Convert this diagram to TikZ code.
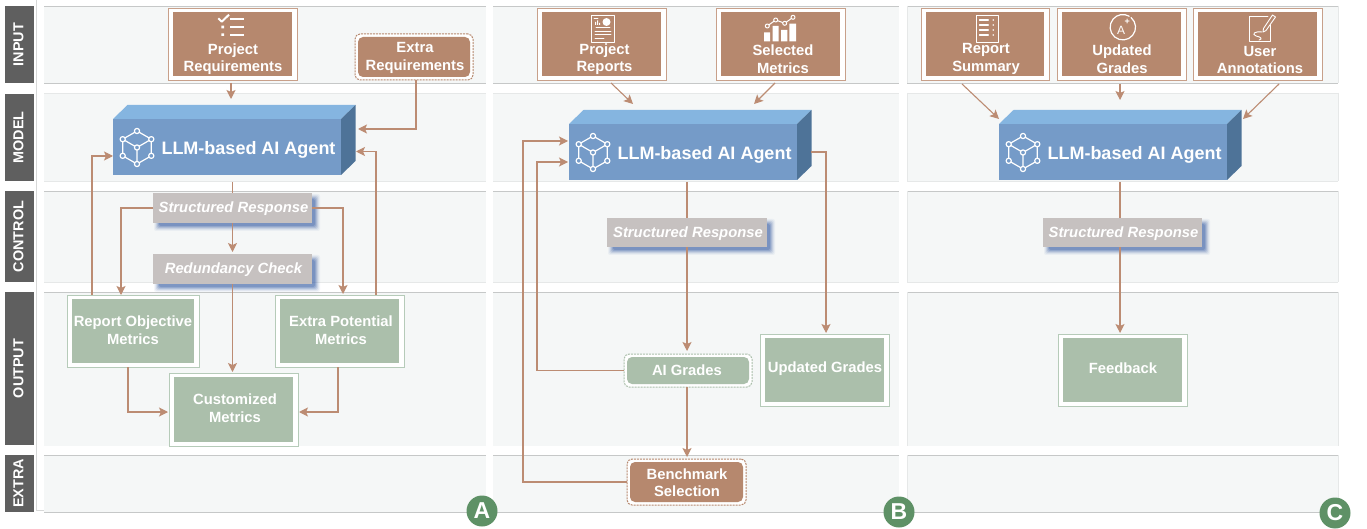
\documentclass[tikz,border=0pt]{standalone}
\usepackage{fontspec}
\setmainfont{Liberation Sans}
\usetikzlibrary{arrows.meta}
\definecolor{brownbox}{HTML}{B6886E}
\definecolor{brownedge}{HTML}{C8A08A}
\definecolor{greenbox}{HTML}{ABBFAB}
\definecolor{greenedge}{HTML}{B6CBB9}
\definecolor{wire}{HTML}{BC8C73}
\definecolor{band}{HTML}{F5F7F7}
\definecolor{bandlight}{HTML}{E6E8E8}
\definecolor{banddark}{HTML}{C6C8C8}
\definecolor{sidegray}{HTML}{5F5F5F}
\definecolor{greybox}{HTML}{C6C1C0}
\definecolor{shadowblue}{HTML}{2F55A0}
\definecolor{front}{HTML}{759BC8}
\definecolor{topface}{HTML}{85B5E0}
\definecolor{sideface}{HTML}{4E7398}
\definecolor{badgegreen}{HTML}{5E9166}
\tikzset{
  x=1pt,y=-1pt,
  every node/.style={inner sep=0pt,outer sep=0pt},
  outerbox/.style={draw,fill=white,line width=.9pt},
  dashbox/.style={draw,fill=white,line width=1pt,dash pattern=on 2pt off 1pt,rounded corners=5pt},
  boxlabel/.style={text=white,align=center,font=\fontsize{14.8}{17.5}\selectfont\bfseries},
  resplabel/.style={text=white,font=\fontsize{14.8}{17}\selectfont\bfseries\itshape},
  agentlabel/.style={text=white,font=\fontsize{18}{20}\selectfont\bfseries},
  wireline/.style={draw=wire,line width=1.1pt},
  conn/.style={wireline,-{Stealth[length=9pt,width=9pt,inset=2pt]}},
  icon/.style={draw=white,line width=1.2pt,line cap=round,line join=round},
  badge/.style={circle,fill=badgegreen,text=white,minimum size=31pt,font=\fontsize{23}{23}\selectfont\bfseries},
}
\newcommand\dblbox[6]{% name,x,y,w,h,colour
  \node[outerbox,draw=#6edge,minimum width=#4pt,minimum height=#5pt] (#1) at (#2,#3) {};
  \node[fill=#6box,minimum width={(#4-10)*1pt},minimum height={(#5-8)*1pt}] (#1-in) at (#2,#3) {};}
\newcommand\dashedbox[6]{% name,x,y,w,h,colour
  \node[dashbox,draw=#6box,minimum width=#4pt,minimum height=#5pt] (#1) at (#2,#3) {};
  \node[fill=#6box,rounded corners=5pt,minimum width={(#4-6)*1pt},minimum height={(#5-6)*1pt}] (#1-in) at (#2,#3) {};}
\newcommand\respbox[6]{% name,x,y,w,h,text
  \foreach \e/\o in {5/.05,4/.08,3/.12,2/.16,1/.2,0/.25}{
    \fill[shadowblue,opacity=\o,rounded corners=2pt] ({#2-#4/2+6-\e},{#3-#5/2+6-\e}) rectangle ({#2+#4/2+3+\e},{#3+#5/2+3+\e});}
  \node[fill=greybox,minimum width=#4pt,minimum height=#5pt] (#1) at (#2,#3) {};
  \node[resplabel] (#1-txt) at ({#2+1},{#3+1}) {#6};}
\newcommand\agentbox[3]{% name,x,y
  \fill[topface] ({#2-114},{#3-28}) -- ({#2-99.5},{#3-42}) -- ({#2+128.5},{#3-42}) -- ({#2+114},{#3-28}) -- cycle;
  \fill[sideface] ({#2+114},{#3-28}) -- ({#2+128.5},{#3-42}) -- ({#2+128.5},{#3+14}) -- ({#2+114},{#3+28}) -- cycle;
  \node[fill=front,minimum width=228pt,minimum height=56pt] (#1) at (#2,#3) {};
  \node[agentlabel] (#1-txt) at ({#2+21.5},{#3+3}) {LLM-based AI Agent};
  \begin{scope}[shift={({#2-90},{#3+0.5})},icon]
    \draw (0,-16.5) -- (14.3,-8.3) -- (14.3,8.3) -- (0,16.5) -- (-14.3,8.3) -- (-14.3,-8.3) -- cycle;
    \draw (-14.3,-8.3) -- (0,0) -- (14.3,-8.3) (0,0) -- (0,16.5);
    \foreach \p in {(0,-16.5),(14.3,-8.3),(14.3,8.3),(0,16.5),(-14.3,8.3),(-14.3,-8.3),(0,0)}
      \filldraw[fill=front] \p circle (2.6);
  \end{scope}}
\begin{document}
\begin{tikzpicture}
\useasboundingbox (0,0) rectangle (1367,529);
\fill[white] (0,0) rectangle (1367,529);
% bands
\foreach \xa/\xb in {44/486,493/899,907/1338}{
  \fill[band] (\xa,6) rectangle (\xb,83);
  \fill[band] (\xa,93) rectangle (\xb,181);
  \fill[band] (\xa,191) rectangle (\xb,282);
  \fill[band] (\xa,292) rectangle (\xb,446);
  \fill[band] (\xa,455) rectangle (\xb,512);
  \foreach \yy in {93,181,282}
    \draw[bandlight,line width=.8pt] (\xa,\yy) -- (\xb,\yy);
  \foreach \yy in {6,83,191,292,455,512}
    \draw[banddark,line width=.8pt] (\xa,\yy) -- (\xb,\yy);
}
\draw[bandlight,line width=.8pt] (907,6) -- (907,83) (907,93) -- (907,181) (907,191) -- (907,282) (907,292) -- (907,446) (907,455) -- (907,512)
  (1338,6) -- (1338,83) (1338,93) -- (1338,181) (1338,191) -- (1338,282) (1338,292) -- (1338,446) (1338,455) -- (1338,512);
\draw[banddark!70!white,line width=.8pt] (36.5,0) -- (36.5,510) -- (44,510);
% side labels
\foreach \nm/\ya/\yb/\tx in {sideinput/6/83/INPUT,sidemodel/94/181/MODEL,sidecontrol/191/282/CONTROL,sideoutput/292/445/OUTPUT,sideextra/455/512/EXTRA}{
  \fill[sidegray] (5,\ya) rectangle (34,\yb);
  \node[text=white,font=\fontsize{14.4}{16}\selectfont\bfseries,rotate=90] (\nm) at (18.5,{(\ya+\yb)/2}) {\tx};
}
% ---------- column A
\dblbox{pr}{232.5}{44}{129}{72}{brown}
\node[boxlabel] (pr-txt) at (233,59) {Project\\Requirements};
\begin{scope}[icon,line width=2pt]
  \draw[line cap=butt] (218.3,18.3) -- (221.7,21.7) -- (229,14.7);
  \draw[line cap=butt] (230,19.3) -- (244,19.3) (230,27) -- (244,27) (230,34.7) -- (244,34.7);
  \fill[white] (221.3,25.7) rectangle (224,28.3) (221.3,33.4) rectangle (224,36);
\end{scope}
\dashedbox{ex}{414}{57}{118}{46}{brown}
\node[boxlabel] (ex-txt) at (415,58) {Extra\\Requirements};
\agentbox{agA}{227}{147}
\respbox{srA}{232.5}{208}{159}{30}{Structured Response}
\respbox{rcA}{232.5}{269}{159}{30}{Redundancy Check}
\dblbox{rom}{133}{331}{132}{72}{green}
\node[boxlabel] (rom-txt) at (133,330) {Report Objective\\Metrics};
\dblbox{epm}{339.5}{331}{129}{72}{green}
\node[boxlabel] (epm-txt) at (341,330) {Extra Potential\\Metrics};
\dblbox{cm}{233.5}{409.5}{129}{73}{green}
\node[boxlabel] (cm-txt) at (235,408) {Customized\\Metrics};
\draw[conn] ([shift={(-1.5,3)}]pr.south) -- ([shift={(4,-20)}]agA.north);
\draw[conn] ([shift={(2,0)}]ex.south) |- ([shift={(17,-18)}]agA.east);
\draw[wireline] ([shift={(5.5,7)}]agA.south) -- (srA.north);
\draw[conn] (srA.south) -- ([shift={(0,-2)}]rcA.north);
\draw[conn] (srA.west) -| ([shift={(-12,0)}]rom.north);
\draw[conn] (srA.east) -| ([shift={(3.5,-1)}]epm.north);
\draw[conn] (rcA.south) -- ([shift={(-1,-1)}]cm.north);
\draw[conn] ([shift={(-41,0)}]rom.north) |- ([shift={(0,9)}]agA.west);
\draw[conn] ([shift={(36.5,0)}]epm.north) |- ([shift={(15,4.5)}]agA.east);
\draw[conn] ([shift={(-5,0)}]rom.south) |- ([shift={(-1,2.5)}]cm.west);
\draw[conn] ([shift={(-1.5,0)}]epm.south) |- ([shift={(1,2.5)}]cm.east);
% ---------- column B
\dblbox{prB}{601.5}{44}{129}{72}{brown}
\node[boxlabel] (prB-txt) at (604.5,59) {Project\\Reports};
\begin{scope}[icon,line width=.8pt]
  \draw (591.5,15) rectangle (614.5,42);
  \draw (594,18) -- (598,18) (596,27.5) -- (610,27.5) (595,31) -- (611,31) (595,34.5) -- (611,34.5) (595,38) -- (604,38);
  \fill[white] (595,22) rectangle (596,25) (597,20.5) rectangle (598,25) (599,23) rectangle (600,25);
  \fill[white] (606.5,22) circle (4);
\end{scope}
\dblbox{smB}{780.5}{44}{129}{72}{brown}
\node[boxlabel] (smB-txt) at (783,59) {Selected\\Metrics};
\begin{scope}[icon,line width=1pt]
  \fill[white] (764,32.3) rectangle (770,41.3) (772.7,26) rectangle (778.7,41.3) (781,30) rectangle (787.3,41.3) (789.3,23.7) rectangle (796,41.3);
  \draw (767.3,26) -- (775.7,20) -- (784.7,23.3) -- (793,17.3);
  \filldraw[fill=brownbox] (767.3,26) circle (2) (775.7,20) circle (2) (784.7,23.3) circle (2) (793,17.3) circle (2);
\end{scope}
\agentbox{agB}{683}{152}
\respbox{srB}{687}{232.5}{160}{29}{Structured Response}
\dashedbox{aig}{688}{370.5}{128}{33}{green}
\node[boxlabel] (aig-txt) at (687,370.5) {AI Grades};
\dashedbox{bm}{686.5}{482}{119}{46}{brown}
\node[boxlabel] (bm-txt) at (687,482.5) {Benchmark\\Selection};
\dblbox{ugB}{824.5}{370}{129}{72}{green}
\node[boxlabel] (ugB-txt) at (825,368.5) {Updated Grades};
\coordinate (bendai) at ([shift={(-32,10)}]agB.west);
\coordinate (bendbm) at ([shift={(-46,-11)}]agB.west);
\draw[conn] ([shift={(9.5,3)}]prB.south) -- ([shift={(-50,-20)}]agB.north);
\draw[conn] ([shift={(-5.5,3)}]smB.south) -- ([shift={(71,-20)}]agB.north);
\draw[wireline] ([shift={(4,2)}]agB.south) -- (srB.north);
\draw[conn] (srB.south) -- ([shift={(-1,-3)}]aig.north);
\draw[conn] ([shift={(-1,0)}]aig.south) -- ([shift={(.5,-2)}]bm.north);
\draw[conn] ([shift={(14,0)}]agB.east) -| ([shift={(1.5,-1)}]ugB.north);
\draw[conn] (aig.west) -| (bendai) -- ([shift={(-1,10)}]agB.west);
\draw[conn] (bm.west) -| (bendbm) -- ([shift={(-1,-11)}]agB.west);
% ---------- column C
\dblbox{rs}{985}{44}{128}{72}{brown}
\node[boxlabel] (rs-txt) at (986,59) {Report\\Summary};
\begin{scope}[icon,line width=.9pt]
  \draw (976,15.3) rectangle (998.3,42.3);
  \draw[line width=1.2pt] (979.5,20) -- (988.3,20) (979.5,25) -- (988.3,25) (979.5,30) -- (988.3,30) (979.5,35) -- (988.3,35);
  \foreach \yy in {20,25,30,35} \fill[white] (993.3,\yy) circle (.9);
\end{scope}
\dblbox{ugC}{1121.5}{44}{129}{72}{brown}
\node[boxlabel] (ugC-txt) at (1122,59) {Updated\\Grades};
\draw[icon] (1131,17.5) arc[start angle=-50,end angle=300,radius=12.7];
\node[text=white,font=\fontsize{12}{12}\selectfont] (ugC-a) at (1121,30) {A};
\node[text=white,font=\fontsize{9}{9}\selectfont\bfseries] (ugC-p) at (1127.3,21.5) {+};
\dblbox{ua}{1257.5}{44}{129}{72}{brown}
\node[boxlabel] (ua-txt) at (1260,60) {User\\Annotations};
\begin{scope}[icon,line width=.9pt]
  \draw (1270,25) -- (1270,41.7) -- (1249.5,41.7) -- (1249.5,16) -- (1268,16);
  \draw (1263.5,28.5) -- (1272.5,15) -- (1275.5,17) -- (1266,30.5) -- (1263,32) -- cycle;
  \draw (1262,32) .. controls (1255,31) and (1251,34) .. (1256,36) .. controls (1261,37) and (1263,39) .. (1259,40);
\end{scope}
\agentbox{agC}{1113}{152}
\respbox{srC}{1122.5}{232.5}{159}{29}{Structured Response}
\dblbox{fb}{1122.5}{370}{129}{72}{green}
\node[boxlabel] (fb-txt) at (1123,368.5) {Feedback};
\draw[conn] ([shift={(-23,4)}]rs.south) -- ([shift={(-114,-5)}]agC.north);
\draw[conn] ([shift={(-1.5,4)}]ugC.south) -- ([shift={(7,-24)}]agC.north);
\draw[conn] ([shift={(21.5,4)}]ua.south) -- ([shift={(130,-5)}]agC.north);
\draw[wireline] ([shift={(7,2)}]agC.south) -- ([shift={(-2.5,0)}]srC.north);
\draw[conn] ([shift={(-2.5,0)}]srC.south) -- ([shift={(-2.5,-1)}]fb.north);
% badges
\node[badge] (badgeA) at (482,511) {A};
\node[badge] (badgeB) at (899,512) {B};
\node[badge] (badgeC) at (1335,513) {C};
\end{tikzpicture}
\end{document}
